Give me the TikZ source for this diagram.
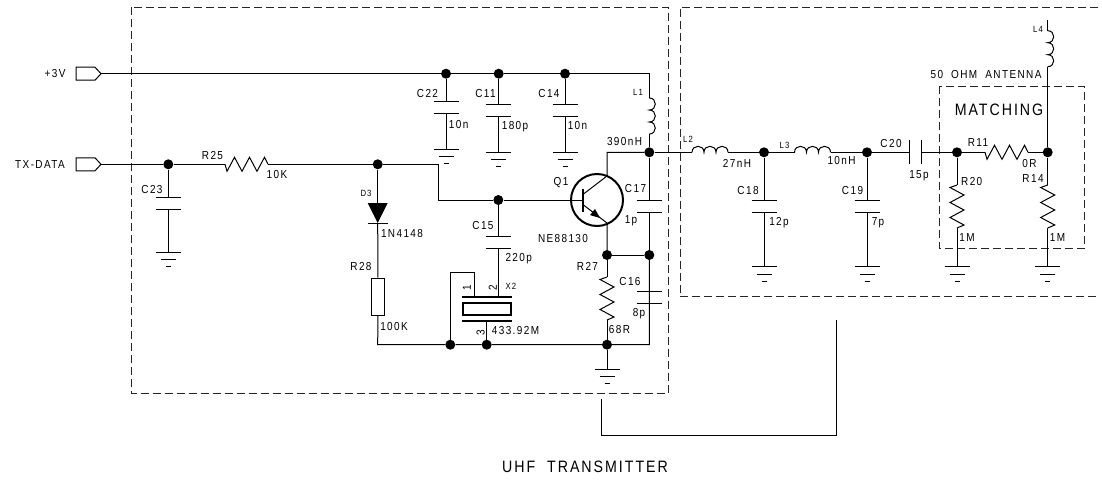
\documentclass[tikz,border=0pt]{standalone}
\usepackage{fontspec}
\setmainfont[LetterSpace=12,FakeStretch=0.86]{Liberation Sans}
\newcommand\fsN{\fontsize{11.6}{13}\selectfont}
\newcommand\fsS{\fontsize{9}{10}\selectfont}
\newcommand\fsL{\fontsize{16.5}{18}\selectfont}
\tikzset{
  wire/.style={line width=1pt,black},
  heavy/.style={line width=2pt,black},
  boxline/.style={line width=1pt,black!85,dash pattern=on 8pt off 4pt},
  junction/.style={circle,fill=black,inner sep=0pt,minimum size=10pt},
  lbl/.style={inner sep=0pt,text=black,font=\fsN},
  lbls/.style={inner sep=0pt,text=black,font=\fsS},
  lbll/.style={inner sep=0pt,text=black,font=\fsL}
}
\newcommand\Jn[3]{\node[junction] (#1) at (#2,#3) {};}
% horizontal resistor, start point x,y, length 43
\newcommand\RzH[3]{\coordinate (#1-a) at (#2,#3);\coordinate (#1-b) at (#2+43,#3);
  \draw[wire,line join=miter] (#1-a) -- ++(2,7) -- ++(7.5,-14) -- ++(7.5,14) -- ++(7.5,-14) -- ++(7.5,14) -- ++(7.5,-14) -- (#1-b);}
% vertical resistor, start point x,y, length 43
\newcommand\RzV[3]{\coordinate (#1-a) at (#2,#3);\coordinate (#1-b) at (#2,#3+43);
  \draw[wire,line join=miter] (#1-a) -- ++(-7,2.5) -- ++(14,7.5) -- ++(-14,7.5) -- ++(14,7.5) -- ++(-14,7.5) -- ++(14,7.5) -- (#1-b);}
% vertical capacitor: top plate at x,y
\newcommand\CapV[3]{\coordinate (#1-a) at (#2,#3);\coordinate (#1-b) at (#2,#3+12);
  \draw[wire] (#2-12.5,#3) -- (#2+12.5,#3) (#2-12.5,#3+12) -- (#2+12.5,#3+12);}
% horizontal inductor
\newcommand\CoilH[3]{\coordinate (#1-a) at (#2,#3);\coordinate (#1-b) at (#2+36,#3);
  \draw[wire] (#1-a) .. controls (#2,#3-8) and (#2+12,#3-8) .. (#2+12,#3)
    .. controls (#2+12,#3-8) and (#2+24,#3-8) .. (#2+24,#3)
    .. controls (#2+24,#3-8) and (#2+36,#3-8) .. (#1-b);}
% vertical inductor
\newcommand\CoilV[3]{\coordinate (#1-a) at (#2,#3);\coordinate (#1-b) at (#2,#3+36);
  \draw[wire] (#1-a) .. controls (#2+8,#3) and (#2+8,#3+12) .. (#2,#3+12)
    .. controls (#2+8,#3+12) and (#2+8,#3+24) .. (#2,#3+24)
    .. controls (#2+8,#3+24) and (#2+8,#3+36) .. (#1-b);}
% ground symbol
\newcommand\Gnd[3]{\coordinate (#1) at (#2,#3);
  \draw[wire] (#2-12.5,#3) -- (#2+12.5,#3) (#2-7.5,#3+7.3) -- (#2+7.5,#3+7.3) (#2-2.5,#3+14.3) -- (#2+2.5,#3+14.3);}
\begin{document}
\begin{tikzpicture}[x=1pt,y=-1pt]
\useasboundingbox (0,0) rectangle (1102,480);
\fill[white] (0,0) rectangle (1102,480);
% dashed boxes
\coordinate (BoxA) at (131,7);\coordinate (BoxB) at (668,393.3);
\draw[boxline] (BoxA) rectangle (BoxB);
\coordinate (BoxC) at (680,7);\coordinate (BoxD) at (1098,7);\coordinate (BoxE) at (680,296.7);\coordinate (BoxF) at (1098,296.7);
\draw[boxline] (BoxD) -- (BoxC) -- (BoxE) -- (BoxF);
\coordinate (BoxG) at (939.3,86);\coordinate (BoxH) at (1084.3,248.3);
\draw[boxline] (BoxG) rectangle (BoxH);
% bracket
\coordinate (BrA) at (601.3,399);\coordinate (BrB) at (601.3,435.7);\coordinate (BrC) at (836.7,435.7);\coordinate (BrD) at (836.7,320);
\draw[wire] (BrA) -- (BrB) -- (BrC) -- (BrD);
% ports
\coordinate (PortA) at (101,73.7);\coordinate (PortB) at (101,164.3);
\draw[wire] (PortA) -- ++(-6,-6.5) -- ++(-19,0) -- ++(0,13) -- ++(19,0) -- cycle;
\draw[wire] (PortB) -- ++(-6,-6.5) -- ++(-19,0) -- ++(0,13) -- ++(19,0) -- cycle;
% junctions
\Jn{JA}{446}{73.7}\Jn{JB}{498.7}{73.7}\Jn{JC}{565}{73.7}
\Jn{JD}{168.3}{164.3}\Jn{JE}{377.7}{164.3}
\Jn{JF}{498.3}{200}
\Jn{JG}{649.3}{152.3}\Jn{JH}{607}{255}\Jn{JI}{649.3}{255}
\Jn{JJ}{450.3}{344.7}\Jn{JK}{486.7}{344.7}\Jn{JL}{607}{344.7}
\Jn{JM}{764}{152.3}\Jn{JN}{867}{152.3}\Jn{JO}{957}{152.3}\Jn{JP}{1047.7}{152.3}
% +3V rail
\coordinate (RailEnd) at (649.3,73.7);
\CoilV{LA}{649.3}{98}
\draw[wire] (PortA) -- (JA) -- (JB) -- (JC) -- (RailEnd) -- (LA-a);
\draw[wire] (LA-b) -- (JG);
% decoupling caps
\CapV{CTT}{446}{101.7}\Gnd{GA}{446}{149.3}
\draw[wire] (JA) -- (CTT-a) (CTT-b) -- (GA);
\CapV{CEL}{498.7}{104}\Gnd{GB}{498.7}{152.3}
\draw[wire] (JB) -- (CEL-a) (CEL-b) -- (GB);
\CapV{CFT}{565}{104}\Gnd{GC}{565}{152.3}
\draw[wire] (JC) -- (CFT-a) (CFT-b) -- (GC);
% TX data
\RzH{RA}{225}{164.3}
\draw[wire] (PortB) -- (JD) -- (RA-a) (RA-b) -- (JE);
\CapV{CTH}{168.3}{197.7}\Gnd{GD}{168.3}{252}
\draw[wire] (JD) -- (CTH-a) (CTH-b) -- (GD);
% base path
\coordinate (BaseA) at (438,164.3);\coordinate (BaseB) at (438,200);\coordinate (QB) at (582.7,200);
\draw[wire] (JE) -- (BaseA) -- (BaseB) -- (JF) -- (QB);
% transistor
\node[circle,draw=black,line width=2pt,inner sep=0pt,minimum size=52pt] (QA) at (597,200) {};
\coordinate (QBa) at (582.7,189);\coordinate (QBb) at (582.7,212);
\draw[heavy] (QBa) -- (QBb);
\coordinate (QCa) at (583.5,194);\coordinate (QCb) at (607,176);\coordinate (QCc) at (607,152.3);
\draw[wire] (QCa) -- (QCb) -- (QCc) -- (JG);
\coordinate (QEa) at (583.5,205);\coordinate (QEb) at (607,223);
\draw[wire] (QEa) -- (QEb) -- (JH);
\coordinate (QAr) at (600,218);\coordinate (QAs) at (590,215.1);\coordinate (QAt) at (595,208.9);
\fill[black] (QAr) -- (QAs) -- (QAt) -- cycle;
% D3 and R28
\coordinate (DA) at (377.7,203);\coordinate (DB) at (377.7,223);
\fill[black] (367.7,203) -- (387.7,203) -- (DB) -- cycle;
\draw[wire] (367.7,223) -- (387.7,223);
\draw[wire] (JE) -- (DA);
\node[draw=black,line width=1pt,fill=white,inner sep=0pt,minimum width=12.3pt,minimum height=37pt] (RB) at (378,296.5) {};
\draw[wire] (DB) -- (RB);
\coordinate (BotA) at (377.7,344.7);\coordinate (BotB) at (649.3,344.7);
\draw[wire] (RB) -- (BotA) -- (JJ) -- (JK) -- (JL) -- (BotB) -- (JI);
% C15 and crystal
\CapV{CFV}{498.3}{236.7}
\draw[wire] (JF) -- (CFV-a);
\coordinate (XA) at (498.3,296.7);\coordinate (XB) at (474.7,296.7);\coordinate (XC) at (474.7,272.7);\coordinate (XD) at (450.3,272.7);\coordinate (XE) at (486.7,321);
\draw[wire] (CFV-b) -- (XA) (XB) -- (XC) -- (XD) -- (JJ) (XE) -- (JK);
\draw[heavy] (461.7,296.7) -- (511.7,296.7) (461.7,321) -- (511.7,321);
\node[draw=black,line width=2pt,inner sep=0pt,minimum width=48pt,minimum height=12pt] (XT) at (486.7,309.2) {};
% R27, C17, C16
\RzV{RC}{607}{277}
\draw[wire] (JH) -- (RC-a) (RC-b) -- (JL);
\draw[wire] (JH) -- (JI);
\Gnd{GE}{607}{369}
\draw[wire] (JL) -- (GE);
\CapV{CSV}{649.3}{200}
\draw[wire] (JG) -- (CSV-a) (CSV-b) -- (JI);
\CapV{CSX}{649.3}{291}
\draw[wire] (JI) -- (CSX-a) (CSX-b) -- (BotB);
% output filter
\CoilH{LB}{692}{152.3}
\draw[wire] (JG) -- (LB-a) (LB-b) -- (JM);
\CoilH{LC}{794.5}{152.3}
\draw[wire] (JM) -- (LC-a) (LC-b) -- (JN);
\CapV{CEI}{764}{200.3}\Gnd{GF}{764}{266.7}
\draw[wire] (JM) -- (CEI-a) (CEI-b) -- (GF);
\CapV{CNI}{867}{200.3}\Gnd{GG}{867}{266.7}
\draw[wire] (JN) -- (CNI-a) (CNI-b) -- (GG);
\coordinate (CTa) at (909.3,152.3);\coordinate (CTb) at (921,152.3);
\draw[wire] (909.3,140.3) -- (909.3,164.3) (921,140.3) -- (921,164.3);
\draw[wire] (JN) -- (CTa) (CTb) -- (JO);
\RzH{RD}{985}{152.3}
\draw[wire] (JO) -- (RD-a) (RD-b) -- (JP);
\RzV{RE}{957}{185}\Gnd{GH}{957}{266.7}
\draw[wire] (JO) -- (RE-a) (RE-b) -- (GH);
\RzV{RF}{1047.7}{185}\Gnd{GI}{1047.7}{266.7}
\draw[wire] (JP) -- (RF-a) (RF-b) -- (GI);
\CoilV{LD}{1047.7}{30.7}
\coordinate (LDt) at (1047.7,20);
\draw[wire] (LDt) -- (LD-a) (LD-b) -- (JP);
% labels
\node[lbl] (t1) at (55,74) {+3V};
\node[lbl] (t2) at (40,165) {TX-DATA};
\node[lbl] (t3) at (212.5,156) {R25};
\node[lbl] (t4) at (277,175) {10K};
\node[lbl] (t5) at (152,190) {C23};
\node[lbl] (t6) at (427.5,94) {C22};
\node[lbls] (t7) at (366,193) {D3};
\node[lbl] (t8) at (402,233) {1N4148};
\node[lbl] (t9) at (361,266) {R28};
\node[lbl] (t10) at (394,326) {100K};
\node[lbl] (t11) at (483,226) {C15};
\node[lbl] (t12) at (518.7,259) {220p};
\node[lbls] (t13) at (511,286) {X2};
\node[lbl] (t14) at (515.5,330) {433.92M};
\node[lbl] (t15) at (561,183) {Q1};
\node[lbl] (t16) at (563,239) {NE88130};
\node[lbl] (t17) at (587.5,266) {R27};
\node[lbl] (t18) at (619.5,329) {68R};
\node[lbl] (t19) at (630,281) {C16};
\node[lbl] (t20) at (639,314) {8p};
\node[lbl] (t21) at (635.5,189) {C17};
\node[lbl] (t22) at (631,221) {1p};
\node[lbl] (t23) at (485.5,94) {C11};
\node[lbl] (t24) at (549,94) {C14};
\node[lbl] (t25) at (458.7,125) {10n};
\node[lbl] (t26) at (515,127) {180p};
\node[lbl] (t27) at (577.5,126) {10n};
\node[lbls] (t28) at (638,92) {L1};
\node[lbl] (t29) at (624.5,142) {390nH};
\node[lbls] (t30) at (688,139) {L2};
\node[lbl] (t31) at (737,163) {27nH};
\node[lbls] (t32) at (784.5,145) {L3};
\node[lbl] (t33) at (841.5,161) {10nH};
\node[lbl] (t34) at (891,144) {C20};
\node[lbl] (t35) at (748,191) {C18};
\node[lbl] (t36) at (779,223) {12p};
\node[lbl] (t37) at (852.5,191) {C19};
\node[lbl] (t38) at (878,223) {7p};
\node[lbl] (t39) at (919,176) {15p};
\node[lbl] (t40) at (978,143) {R11};
\node[lbl] (t41) at (1029.5,164) {0R};
\node[lbl] (t42) at (1033,179) {R14};
\node[lbl] (t43) at (971.7,182) {R20};
\node[lbl] (t44) at (967,238) {1M};
\node[lbl] (t45) at (1057.5,238) {1M};
\node[lbls] (t46) at (1038,29) {L4};
\node[lbl] (t47) at (986,75) {50\hspace{4pt} OHM\hspace{4pt} ANTENNA};
\node[lbll] (t48) at (999,110) {MATCHING};
\node[lbll] (t49) at (585,467) {UHF\ \ TRANSMITTER};
\node[lbl,rotate=90] (t50) at (467,287.5) {1};
\node[lbl,rotate=90] (t51) at (492.7,287.5) {2};
\node[lbl,rotate=90] (t52) at (480.7,333) {3};
\end{tikzpicture}
\end{document}
